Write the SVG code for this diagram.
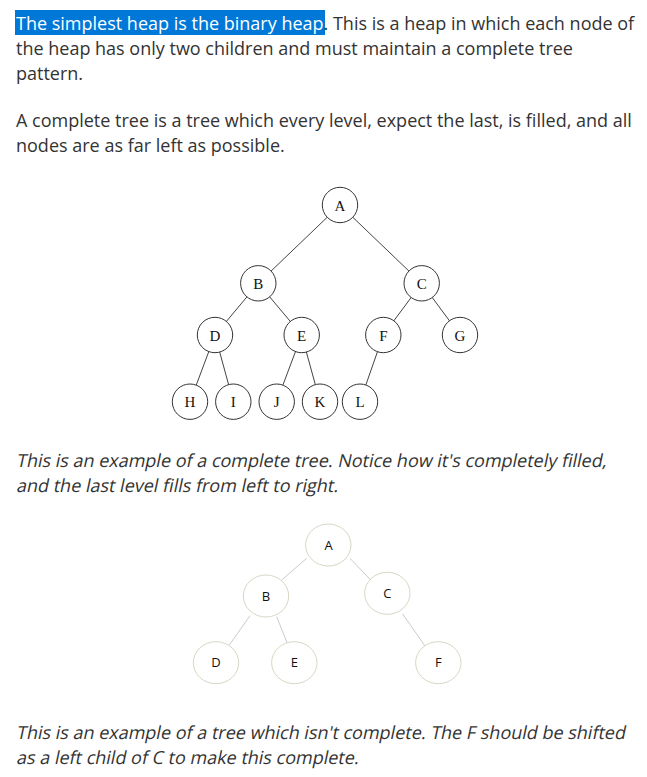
<svg xmlns="http://www.w3.org/2000/svg" width="647" height="777" viewBox="0 0 647 777">
<style>
.p{font-family:"Open Sans","Noto Sans",sans-serif;font-size:18px;fill:#333}
.n1 circle{fill:#fff;stroke:#333;stroke-width:1}
.n1 text{font-family:"Liberation Serif",serif;font-size:15px;fill:#111;text-anchor:middle}
.e1 line{stroke:#444;stroke-width:1}
.n2 ellipse{fill:#fff;stroke:#d9d6c4;stroke-width:1}
.n2 text{font-family:"Open Sans","Noto Sans",sans-serif;font-size:13px;fill:#111;text-anchor:middle}
.e2 line{stroke:#c6ccd2;stroke-width:1}
</style>
<rect width="647" height="777" fill="#fff"/>
<rect x="15" y="10" width="310" height="25" fill="#0078d7"/>
<text class="p" x="16" y="30"><tspan fill="#fff">The simplest heap is the binary heap</tspan>. This is a heap in which each node of</text>
<text class="p" x="16" y="55">the heap has only two children and must maintain a complete tree</text>
<text class="p" x="16" y="80">pattern.</text>
<text class="p" x="16" y="127">A complete tree is a tree which every level, expect the last, is filled, and all</text>
<text class="p" x="16" y="152">nodes are as far left as possible.</text>
<g id="connectors1" class="e1">
<line x1="340" y1="205" x2="258.3" y2="283.3"/>
<line x1="340" y1="205" x2="421.7" y2="283.3"/>
<line x1="258.3" y1="283.3" x2="215" y2="335"/>
<line x1="258.3" y1="283.3" x2="301.7" y2="335"/>
<line x1="421.7" y1="283.3" x2="383.3" y2="335"/>
<line x1="421.7" y1="283.3" x2="460" y2="335"/>
<line x1="215" y1="335" x2="190" y2="401.7"/>
<line x1="215" y1="335" x2="233.3" y2="401.7"/>
<line x1="301.7" y1="335" x2="276.7" y2="401.7"/>
<line x1="301.7" y1="335" x2="320" y2="401.7"/>
<line x1="383.3" y1="335" x2="360" y2="401.7"/>
</g>
<g class="n1">
<g id="t1A"><circle cx="340" cy="205" r="17.7"/><text x="340" y="210.5">A</text></g>
<g id="t1B"><circle cx="258.3" cy="283.3" r="17.7"/><text x="258.3" y="288.8">B</text></g>
<g id="t1C"><circle cx="421.7" cy="283.3" r="17.7"/><text x="421.7" y="288.8">C</text></g>
<g id="t1D"><circle cx="215" cy="335" r="17.7"/><text x="215" y="340.5">D</text></g>
<g id="t1E"><circle cx="301.7" cy="335" r="17.7"/><text x="301.7" y="340.5">E</text></g>
<g id="t1F"><circle cx="383.3" cy="335" r="17.7"/><text x="383.3" y="340.5">F</text></g>
<g id="t1G"><circle cx="460" cy="335" r="17.7"/><text x="460" y="340.5">G</text></g>
<g id="t1H"><circle cx="190" cy="401.7" r="17.7"/><text x="190" y="407.2">H</text></g>
<g id="t1I"><circle cx="233.3" cy="401.7" r="17.7"/><text x="233.3" y="407.2">I</text></g>
<g id="t1J"><circle cx="276.7" cy="401.7" r="17.7"/><text x="276.7" y="407.2">J</text></g>
<g id="t1K"><circle cx="320" cy="401.7" r="17.7"/><text x="320" y="407.2">K</text></g>
<g id="t1L"><circle cx="360" cy="401.7" r="17.7"/><text x="360" y="407.2">L</text></g>
</g>
<text class="p" transform="translate(16,467) skewX(-12)">This is an example of a complete tree. Notice how it's completely filled,</text>
<text class="p" transform="translate(16,492) skewX(-12)">and the last level fills from left to right.</text>
<g id="connectors2" class="e2">
<line x1="306.7" y1="558.3" x2="281.7" y2="580"/>
<line x1="350" y1="558.3" x2="370.7" y2="580"/>
<line x1="250" y1="615.7" x2="229.3" y2="645"/>
<line x1="276.7" y1="616.7" x2="287.3" y2="643.3"/>
<line x1="402.7" y1="614" x2="425" y2="646"/>
</g>
<g class="n2">
<g id="t2A"><ellipse cx="328.3" cy="545" rx="22.7" ry="21"/><text x="328.5" y="549.5">A</text></g>
<g id="t2B"><ellipse cx="266" cy="596" rx="22.7" ry="21"/><text x="266" y="600.5">B</text></g>
<g id="t2C"><ellipse cx="387.3" cy="593.3" rx="22.7" ry="21"/><text x="387.3" y="597.8">C</text></g>
<g id="t2D"><ellipse cx="216" cy="662.7" rx="22.7" ry="21"/><text x="216" y="667.2">D</text></g>
<g id="t2E"><ellipse cx="294.3" cy="662.7" rx="22.7" ry="21"/><text x="294.3" y="667.2">E</text></g>
<g id="t2F"><ellipse cx="438.3" cy="662.7" rx="22.7" ry="21"/><text x="438.3" y="667.2">F</text></g>
</g>
<text class="p" transform="translate(16,739) skewX(-12)">This is an example of a tree which isn't complete. The F should be shifted</text>
<text class="p" transform="translate(16,764) skewX(-12)">as a left child of C to make this complete.</text>
</svg>
